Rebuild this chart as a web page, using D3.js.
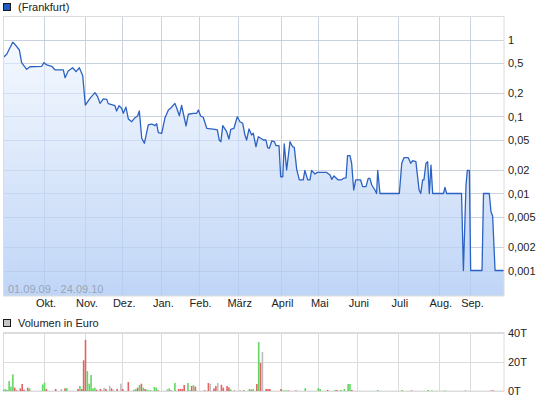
<!DOCTYPE html>
<html>
<head>
<meta charset="utf-8">
<script src="https://cdn.jsdelivr.net/npm/d3@7"></script>
<style>
  html, body { margin: 0; padding: 0; background: #fff; }
  svg { display: block; font-family: "Liberation Sans", Arial, sans-serif; }
  .axis text { font-size: 11px; fill: #222; }
</style>
</head>
<body>
<svg id="chart" width="545" height="401"></svg>
<script>
// ---------- DATA ----------
const seriesName = "(Frankfurt)";
const volumeName = "Volumen in Euro";
const dateRange = "01.09.09 - 24.09.10";

const lastTradingDay = 269;
const monthLabels = ["Okt.", "Nov.", "Dez.", "Jan.", "Feb.", "März", "April", "Mai", "Juni", "Juli", "Aug.", "Sep."];
const monthStartDay = [22, 44, 64, 85, 105, 126, 149, 169, 190, 212, 234, 251];

const priceTicks = [1, 0.5, 0.2, 0.1, 0.05, 0.02, 0.01, 0.005, 0.002, 0.001];
const priceTickLabels = ["1", "0,5", "0,2", "0,1", "0,05", "0,02", "0,01", "0,005", "0,002", "0,001"];

const volumeTicks = [0, 20, 40];
const volumeTickLabels = ["0T", "20T", "40T"];

const tradingDay = [0,2,5.2,6.4,8.8,10,12.7,14.5,20.8,22,
  23.5,26.1,27.9,32.4,33.3,35,37.4,39.2,41,42.8,
  44.2,46.7,49.4,50.8,52.1,53.9,55.7,56.5,60.1,61,
  62.3,63.7,64.6,66,67.3,69.1,70.9,72.3,73.2,74.5,
  75.9,78,79.8,81.6,82.5,83.4,85.2,87,88.8,90,
  92.3,93.3,94.7,95.9,98.3,99.5,102.2,104,104.9,106.1,
  107.5,109.4,113.8,115.1,116.1,117,118,120.1,121.3,122.3,
  124,125.8,127.2,128.7,129.9,130.8,132.1,133.5,134.4,135.8,
  137.1,139.8,141.2,142.1,143,144.3,145.7,146.6,148.2,149.1,
  150.2,151,152.3,154.1,155.5,156.4,157.7,159.1,161.2,162.1,
  163.6,164.8,165.7,167.5,168.8,173.8,175.6,176.5,177.7,180,
  181.5,182.7,184.2,185,186.3,187.2,188.3,189.4,192,193.1,
  194.9,196.1,197,198,199.7,200.6,201.2,202.4,212.8,214.1,
  215.3,217.6,218.9,220,221.7,223.4,224.3,225.3,226,227.1,
  228,228.9,229.8,230.7,236.5,237.3,238.2,246.2,247.2,248.6,
  249.3,250.4,251.1,257.2,258,261.1,262,262.9,264.2,269];

const price = [0.58,0.642,0.92,0.866,0.73,0.5,0.41,0.443,0.449,0.5,
  0.467,0.449,0.405,0.402,0.319,0.39,0.43,0.382,0.43,0.339,
  0.141,0.172,0.204,0.181,0.148,0.169,0.167,0.147,0.138,0.118,
  0.138,0.128,0.11,0.132,0.0929,0.0856,0.0965,0.1015,0.118,0.0521,
  0.0449,0.0776,0.0799,0.076,0.0806,0.0616,0.0605,0.0965,0.1214,0.128,
  0.148,0.128,0.1024,0.139,0.0753,0.107,0.11,0.11,0.1214,0.1015,
  0.0977,0.0703,0.0682,0.0668,0.0495,0.0471,0.076,0.0635,0.051,0.0682,
  0.0703,0.0994,0.0856,0.0816,0.0575,0.0495,0.0689,0.0575,0.0605,0.0405,
  0.0547,0.0495,0.0495,0.0393,0.0386,0.0481,0.0471,0.0418,0.0418,0.0165,
  0.0165,0.044,0.0202,0.0471,0.0405,0.0398,0.0206,0.015,0.015,0.02,
  0.015,0.015,0.02,0.0179,0.0188,0.0188,0.0174,0.0153,0.0169,0.015,
  0.015,0.0157,0.016,0.031,0.031,0.0247,0.0111,0.015,0.015,0.0123,
  0.0123,0.0157,0.0157,0.0129,0.0111,0.01,0.02,0.01,0.01,0.0247,
  0.0292,0.0292,0.0247,0.0267,0.0259,0.0111,0.01,0.015,0.015,0.0247,
  0.0259,0.01,0.0234,0.01,0.01,0.012,0.01,0.01,0.001,0.0129,
  0.02,0.02,0.001,0.001,0.01,0.01,0.0058,0.0051,0.001,0.001];

// volume in thousand euro, by trading day; direction u = up, d = down, n = unchanged
const volDay = [0,1,2,3,4,5,6,7,9,10,11,13,14,21,22,23,28,31,33,34,
  40,41,42,43,44,45,46,47,48,49,50,52,53,54,55,57,58,59,61,63,
  64,67,70,71,72,73,74,75,76,77,78,79,81,82,83,88,89,90,92,94,
  95,96,97,99,100,101,102,103,108,110,111,113,114,115,117,118,120,121,122,124,
  127,129,132,133,134,136,137,138,139,141,142,143,149,150,151,152,153,157,162,169,
  170,174,178,179,181,183,185,186,187,201,214,219,228,230,237,248,262,263];
const volValue = [0.9,1.4,0.7,6.8,3,11.4,2.3,0.5,1.8,4.8,0.9,2.3,1.8,4.5,5.7,1.4,1.4,1.4,1.8,2,
  1.4,3.4,1.4,21,35,13.6,5,10.9,1.8,2.3,0.9,1.4,0.5,2.3,1.4,3.6,1.8,0.9,1.4,5,
  1.4,6.1,0.9,1.4,2.3,4.1,5,2.3,1.4,0.9,0.5,0.5,2.7,2.3,0.5,1.4,1.8,0.5,5.5,1.4,
  1.4,1.4,4.1,5.5,0.7,3.4,4,3,0.5,5.5,4.8,1.8,3.4,5.5,4.3,2.3,3.4,2.5,1.1,0.7,
  0.3,0.7,1.4,0.9,1.4,4.8,33.4,19.3,26.6,1.4,1.4,1.4,1.4,0.4,0.4,0.4,0.4,0.4,2,2,
  1.4,0.7,0.7,0.7,0.7,1.4,4.8,4.8,0.7,0.7,0.7,0.4,0.7,0.4,0.4,0.4,0.4,0.4];
const volDir = ["u","u","u","u","u","u","d","d","d","d","d","d","u","u","u","d","d","n","d","u",
  "d","u","d","d","d","u","u","u","u","u","d","d","n","n","d","n","d","n","d","n",
  "d","d","u","u","d","u","d","u","d","u","u","u","u","u","d","n","u","d","u","d",
  "d","d","d","u","n","d","u","d","d","d","n","d","d","n","d","d","d","d","u","n",
  "d","u","u","d","u","d","u","d","n","d","d","d","d","u","u","u","d","d","u","u",
  "u","d","u","d","u","u","u","u","d","u","u","d","u","u","u","u","d","d"];

// ---------- LAYOUT ----------
const svg = d3.select("#chart");
const plotLeft = 3, plotRight = 504;
const priceTop = 16.5, priceBottom = 296;
const volTop = 332.5, volBottom = 391;
const gridColor = "#dcdcdc";

const x = d3.scaleLinear().domain([0, lastTradingDay]).range([plotLeft, plotRight]);
const y = d3.scaleLog().domain([0.001, 1]).range([270.5, 39.5]);
const yVol = d3.scaleLinear().domain([0, 40]).range([volBottom, volTop]);
const dirColor = { u: "#62d762", d: "#e06464", n: "#bdbdbd" };

// gradient
const defs = svg.append("defs");
const grad = defs.append("linearGradient").attr("id", "fillGrad")
  .attr("gradientUnits", "userSpaceOnUse")
  .attr("x1", 0).attr("x2", 0).attr("y1", priceTop).attr("y2", priceBottom);
grad.append("stop").attr("offset", "0%").attr("stop-color", "#fafcff");
grad.append("stop").attr("offset", "100%").attr("stop-color", "#bcd3f6");
defs.append("clipPath").attr("id", "priceClip").append("rect")
  .attr("x", plotLeft).attr("y", priceTop)
  .attr("width", plotRight - plotLeft).attr("height", priceBottom - priceTop);

// ---------- LEGENDS ----------
svg.append("rect").attr("x", 3.5).attr("y", 3.5).attr("width", 7).attr("height", 7)
  .attr("fill", "#1c5cc6").attr("stroke", "#1a1a1a").attr("stroke-width", 1);
svg.append("text").attr("x", 18).attr("y", 11).attr("font-size", "11px").attr("fill", "#222")
  .text(seriesName);

svg.append("rect").attr("x", 3.5).attr("y", 319.5).attr("width", 7).attr("height", 7)
  .attr("fill", "#c4c4c4").attr("stroke", "#1a1a1a").attr("stroke-width", 1);
svg.append("text").attr("x", 18).attr("y", 327).attr("font-size", "11px").attr("fill", "#222")
  .text(volumeName);

// ---------- PRICE PANEL ----------
const pricePanel = svg.append("g");
const points = d3.range(Math.min(tradingDay.length, price.length)).map(i => [tradingDay[i], price[i]]);

// gridlines
pricePanel.append("g").selectAll("line").data(priceTicks).join("line")
  .attr("x1", plotLeft).attr("x2", plotRight)
  .attr("y1", d => Math.round(y(d)) + 0.5).attr("y2", d => Math.round(y(d)) + 0.5)
  .attr("stroke", gridColor);
pricePanel.append("g").selectAll("line").data(monthStartDay).join("line")
  .attr("x1", d => Math.round(x(d)) + 0.5).attr("x2", d => Math.round(x(d)) + 0.5)
  .attr("y1", priceTop).attr("y2", priceBottom)
  .attr("stroke", gridColor);

// area + line
const area = d3.area().x(d => x(d[0])).y0(priceBottom).y1(d => y(d[1]));
const line = d3.line().x(d => x(d[0])).y(d => y(d[1]));
pricePanel.append("path").datum(points).attr("d", area)
  .attr("fill", "url(#fillGrad)").attr("fill-opacity", 0.95).attr("clip-path", "url(#priceClip)");

// gridlines over the fill (slightly visible)
pricePanel.append("g").selectAll("line").data(priceTicks).join("line")
  .attr("x1", plotLeft).attr("x2", plotRight)
  .attr("y1", d => Math.round(y(d)) + 0.5).attr("y2", d => Math.round(y(d)) + 0.5)
  .attr("stroke", "#a9bfe6").attr("stroke-opacity", 0.35).attr("clip-path", "url(#priceClip)");
pricePanel.append("g").selectAll("line").data(monthStartDay).join("line")
  .attr("x1", d => Math.round(x(d)) + 0.5).attr("x2", d => Math.round(x(d)) + 0.5)
  .attr("y1", priceTop).attr("y2", priceBottom)
  .attr("stroke", "#a9bfe6").attr("stroke-opacity", 0.35);

pricePanel.append("path").datum(points).attr("d", line)
  .attr("fill", "none").attr("stroke", "#2b62c3").attr("stroke-width", 1.3)
  .attr("stroke-linejoin", "round").attr("clip-path", "url(#priceClip)");

// frame
pricePanel.append("rect").attr("x", plotLeft + 0.5).attr("y", priceTop)
  .attr("width", plotRight - plotLeft - 0.5).attr("height", priceBottom - priceTop)
  .attr("fill", "none").attr("stroke", gridColor);

pricePanel.append("text").attr("x", 8).attr("y", 293).attr("font-size", "11px")
  .attr("fill", "#9aa4b6").text(dateRange);

// axes
const yAxis = d3.axisRight(y).tickValues(priceTicks)
  .tickFormat((d, i) => priceTickLabels[i]).tickSize(0).tickPadding(4);
svg.append("g").attr("class", "axis").attr("transform", `translate(${plotRight},0)`)
  .call(yAxis).call(g => g.select(".domain").remove());

const xAxis = d3.axisBottom(x).tickValues(monthStartDay)
  .tickFormat((d, i) => monthLabels[i]).tickSize(0).tickPadding(3.5);
svg.append("g").attr("class", "axis").attr("transform", `translate(1.5,${priceBottom})`)
  .call(xAxis).call(g => g.select(".domain").remove());

// ---------- VOLUME PANEL ----------
const volPanel = svg.append("g");
volPanel.append("g").selectAll("line").data(volumeTicks).join("line")
  .attr("x1", plotLeft).attr("x2", plotRight)
  .attr("y1", d => Math.round(yVol(d)) + 0.5).attr("y2", d => Math.round(yVol(d)) + 0.5)
  .attr("stroke", gridColor);
volPanel.append("g").selectAll("line").data(monthStartDay).join("line")
  .attr("x1", d => Math.round(x(d)) + 0.5).attr("x2", d => Math.round(x(d)) + 0.5)
  .attr("y1", volTop).attr("y2", volBottom)
  .attr("stroke", gridColor);
volPanel.append("rect").attr("x", plotLeft + 0.5).attr("y", volTop)
  .attr("width", plotRight - plotLeft - 0.5).attr("height", volBottom - volTop)
  .attr("fill", "none").attr("stroke", gridColor);

const bars = d3.range(volDay.length).map(i => ({ day: volDay[i], v: volValue[i], dir: volDir[i] }));
volPanel.append("g").selectAll("rect").data(bars).join("rect")
  .attr("x", d => x(d.day) - 0.25)
  .attr("width", 1.6)
  .attr("y", d => yVol(d.v))
  .attr("height", d => volBottom - yVol(d.v))
  .attr("fill", d => dirColor[d.dir]);

const yVolAxis = d3.axisRight(yVol).tickValues(volumeTicks)
  .tickFormat((d, i) => volumeTickLabels[i]).tickSize(0).tickPadding(4);
svg.append("g").attr("class", "axis").attr("transform", `translate(${plotRight},0)`)
  .call(yVolAxis).call(g => g.select(".domain").remove());
</script>
</body>
</html>
